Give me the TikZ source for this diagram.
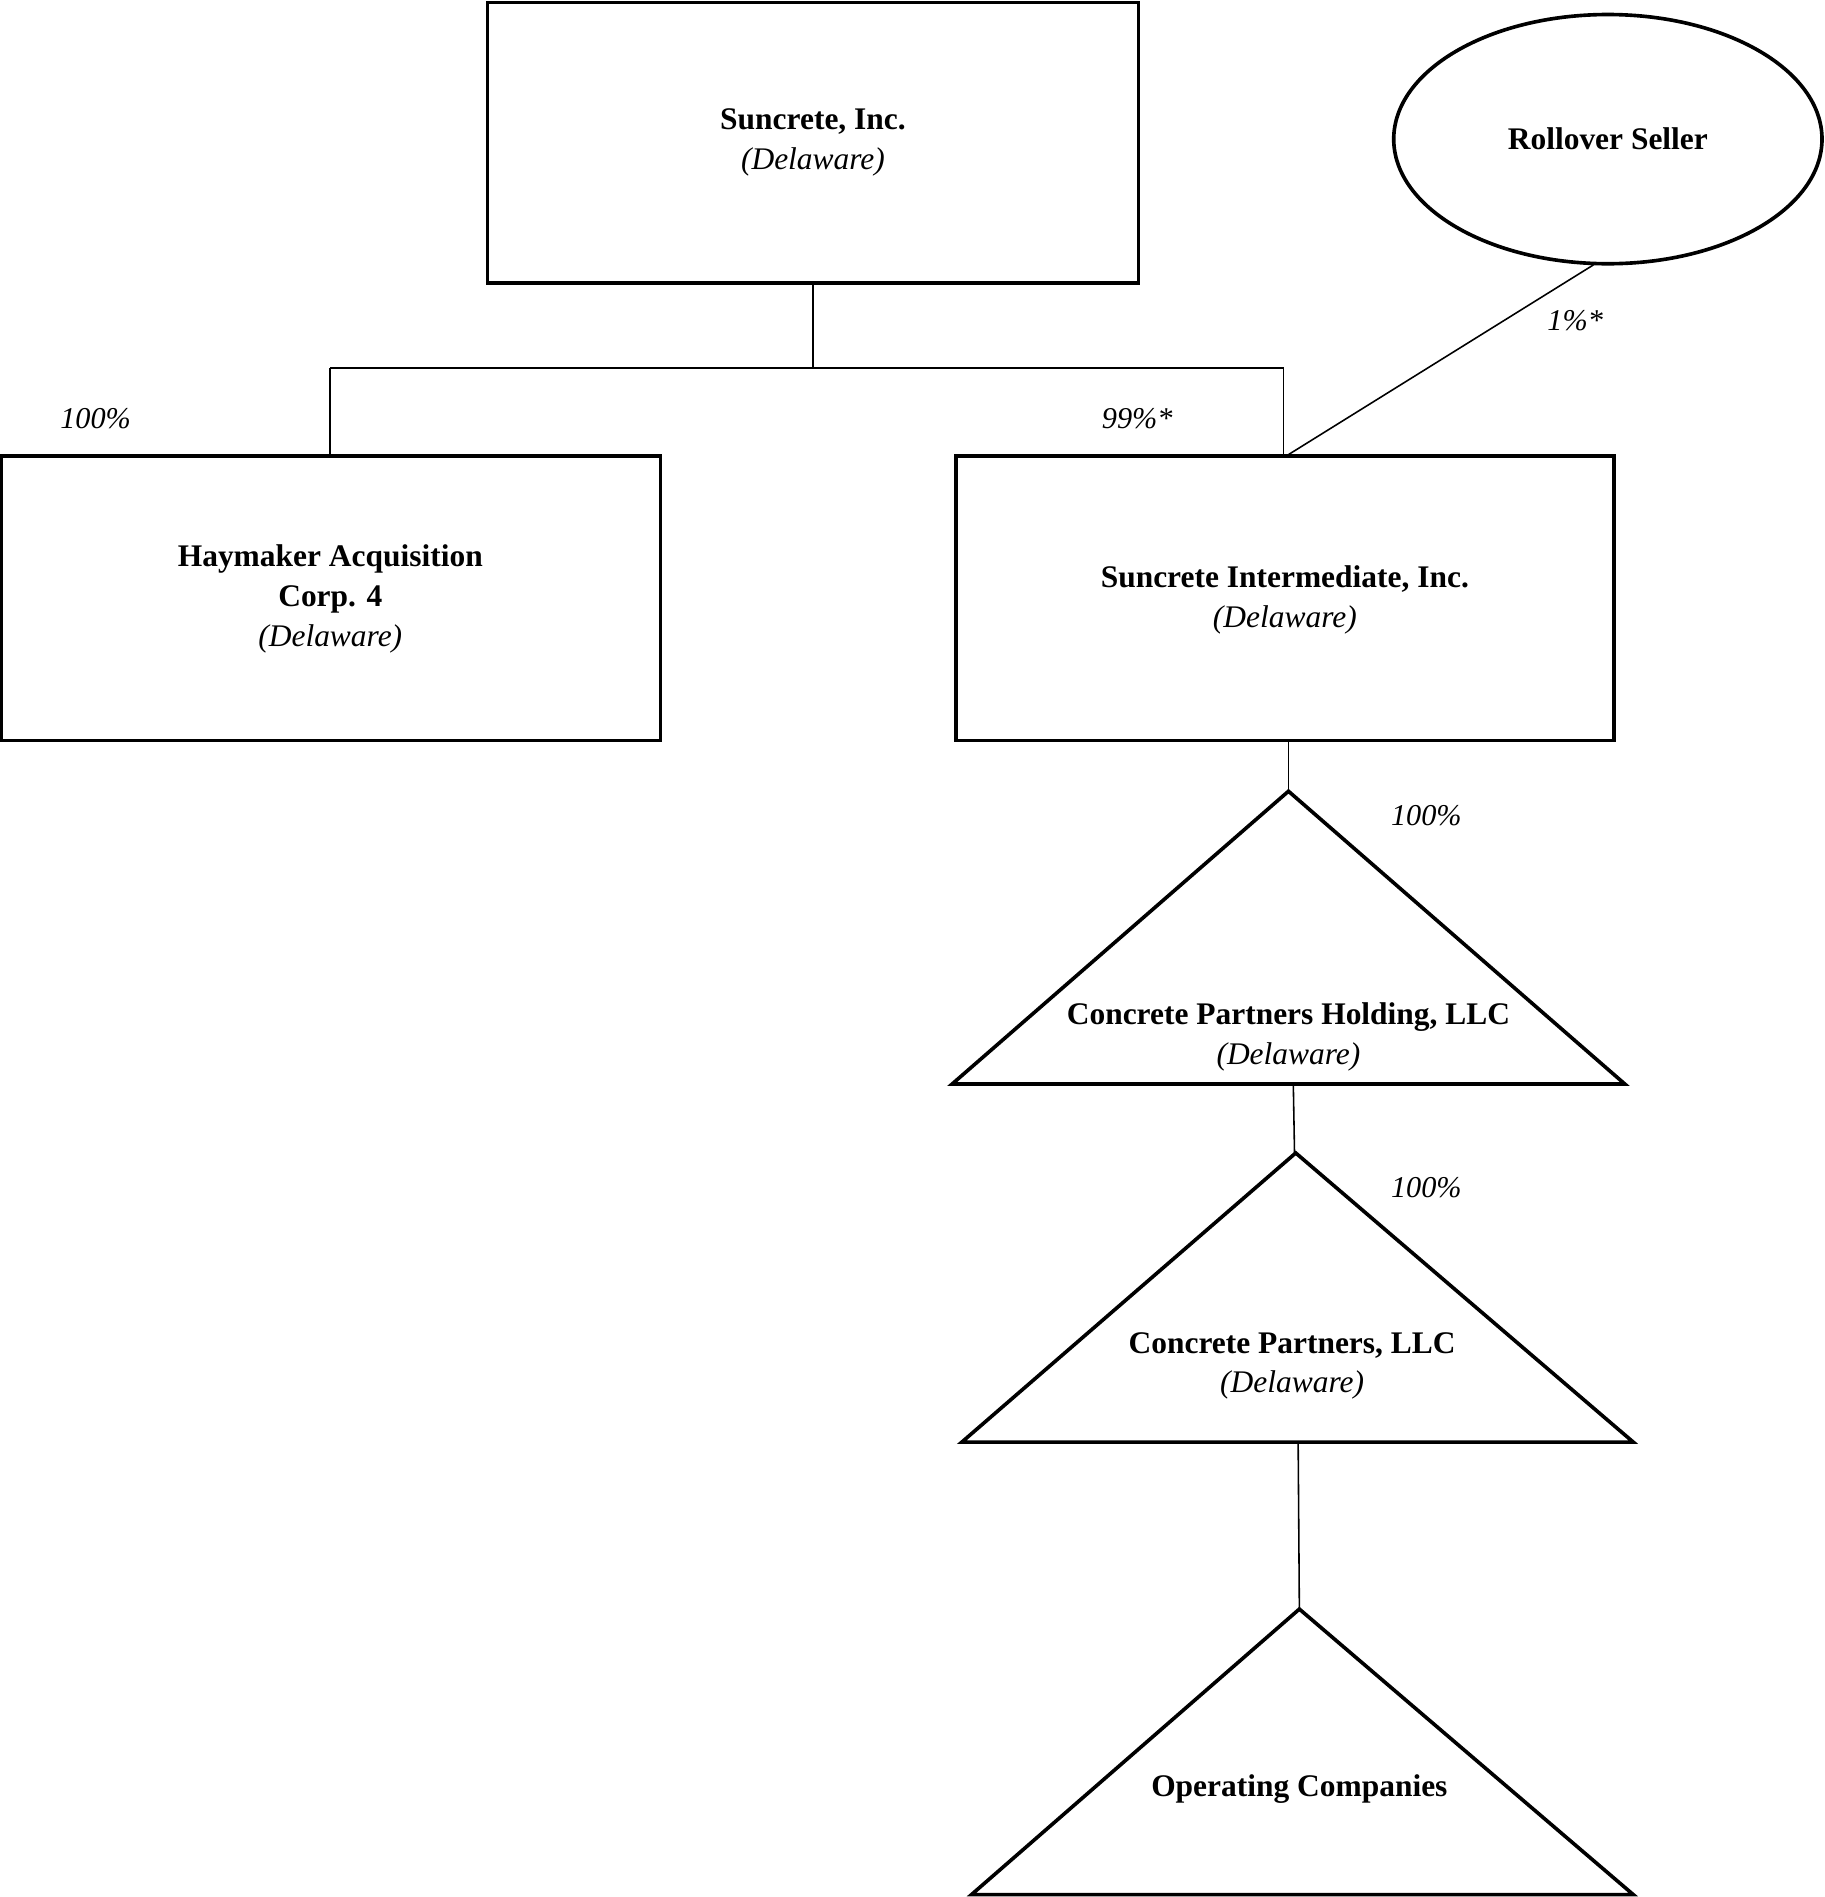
\documentclass[tikz,border=0pt]{standalone}
\usepackage{fontspec}
\setmainfont{Liberation Serif}
\begin{document}
\begin{tikzpicture}[x=1pt,y=-1pt,
  shp/.style={line width=3pt},
  con/.style={line width=1.3pt},
  lbl/.style={font=\fontsize{26}{33}\selectfont\bfseries, align=center, inner sep=0},
  pct/.style={font=\fontsize{25}{30}\selectfont\itshape, inner sep=0}]
\useasboundingbox (0,0) rectangle (1508,1568);
% boxes
\draw[shp] (403,2) rectangle (941,234);
\node[lbl] (sun) at (672,118) {Suncrete, Inc.\\ \normalfont\itshape(Delaware)};
\draw[shp] (1329,115) ellipse (177 and 103);
\node[lbl] (roll) at (1329,115) {Rollover Seller};
\draw[shp] (1,377) rectangle (546,612);
\node[lbl] (hay) at (273,495) {Haymaker Acquisition\\Corp. 4\\ \normalfont\itshape(Delaware)};
\draw[shp] (790,377) rectangle (1334,612);
\node[lbl] (int) at (1062,496) {Suncrete Intermediate, Inc.\\ \normalfont\itshape(Delaware)};
% triangles
\draw[shp,line join=miter] (1065,654) -- (1343,896) -- (787,896) -- cycle;
\node[lbl] (cph) at (1065,857) {Concrete Partners Holding, LLC\\ \normalfont\itshape(Delaware)};
\draw[shp,line join=miter] (1071,953) -- (1350,1192) -- (795,1192) -- cycle;
\node[lbl] (cp) at (1068,1129) {Concrete Partners, LLC\\ \normalfont\itshape(Delaware)};
\draw[shp,line join=miter] (1074,1330) -- (1350,1566) -- (803,1566) -- cycle;
\node[lbl] (op) at (1074,1479) {Operating Companies};
% connectors
\coordinate (a) at (672,234); \coordinate (b) at (672,304);
\coordinate (l) at (273,304); \coordinate (r) at (1061,304);
\draw[con] (a) -- (b);
\draw[con] (l) -- (r);
\draw[con] (l) -- (273,377);
\draw[con] (r) -- (1061,377);
\draw[con] (1317,219) -- (1063,377);
\draw[con] (1065,612) -- (1065,654);
\draw[con] (1069,896) -- (1070,953);
\draw[con] (1073,1192) -- (1074,1330);
% labels
\node[pct] at (79,346) {100\%};
\node[pct] at (940,346) {99\%*};
\node[pct] at (1302,265) {1\%*};
\node[pct] at (1179,674) {100\%};
\node[pct] at (1179,982) {100\%};
\end{tikzpicture}
\end{document}
